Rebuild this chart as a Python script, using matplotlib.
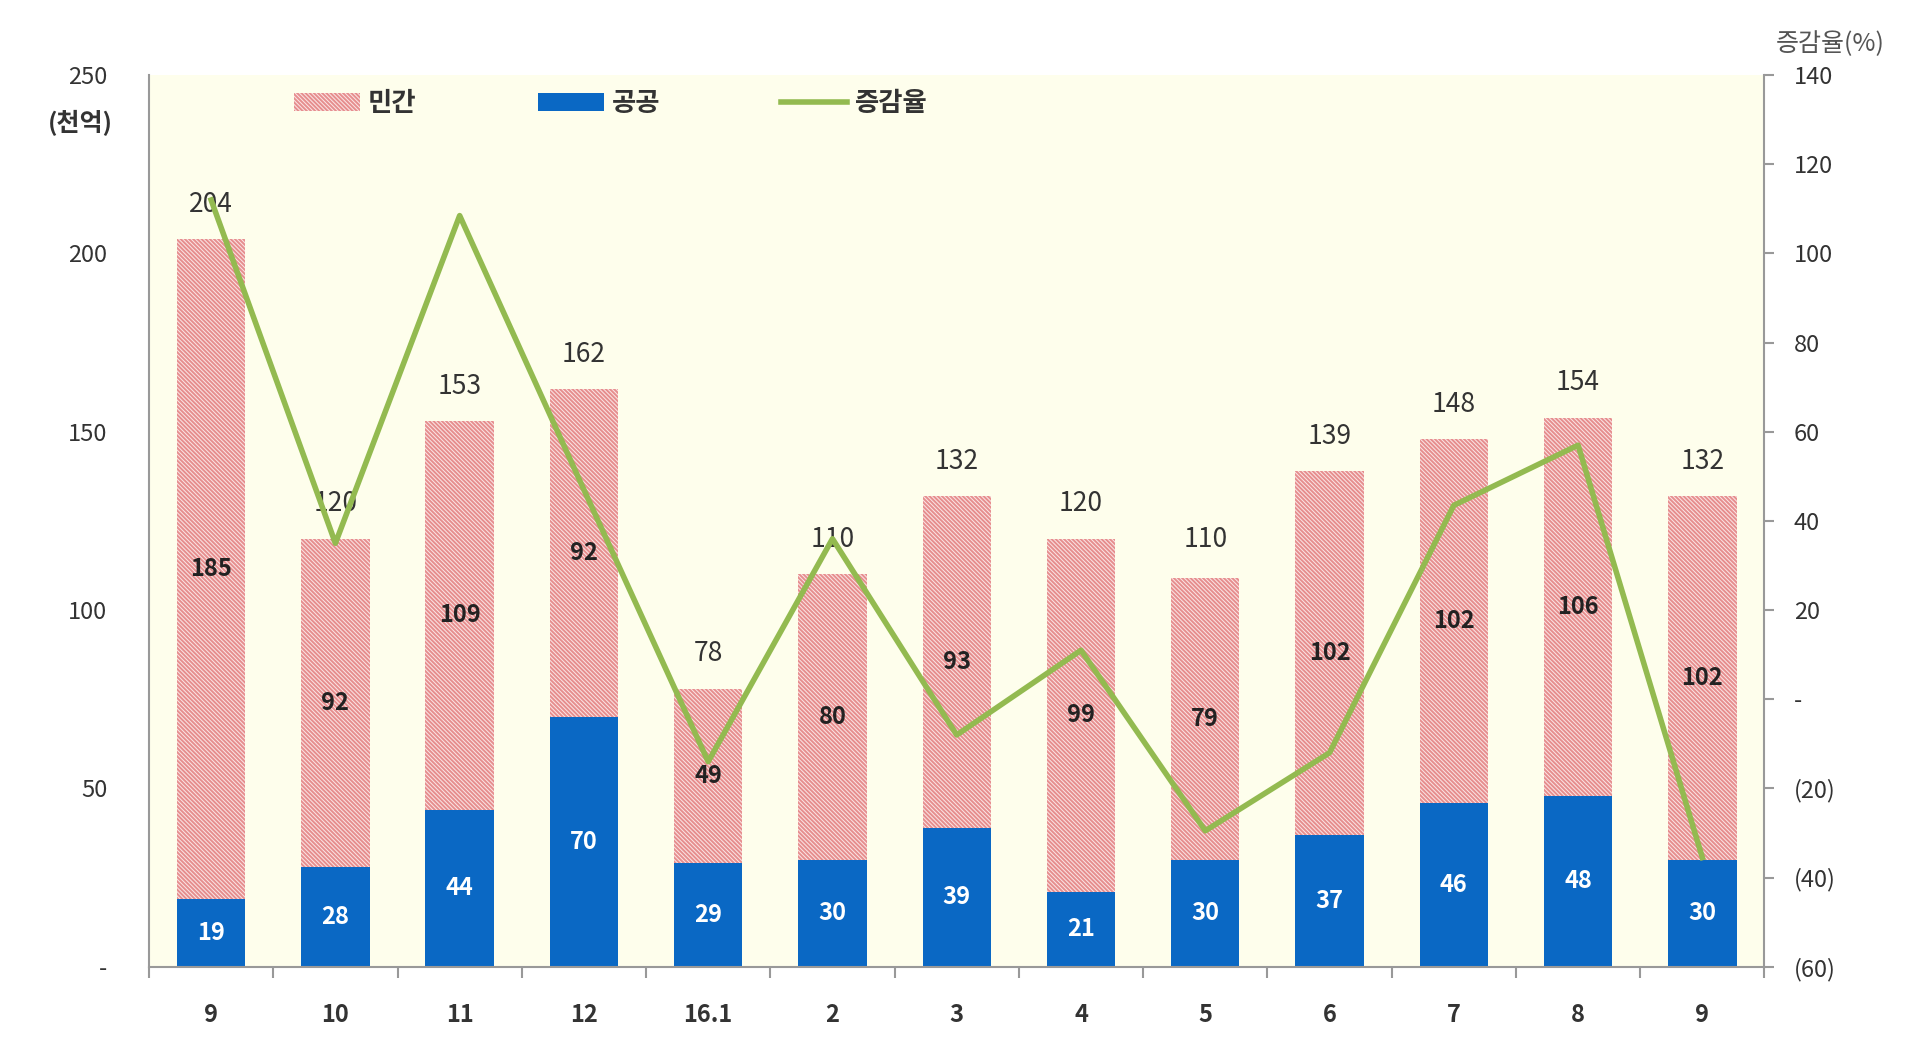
import matplotlib
matplotlib.use("Agg")
import matplotlib.pyplot as plt
import numpy as np
from matplotlib.patches import Patch
from matplotlib.lines import Line2D

plt.rcParams['font.family'] = ['Noto Sans CJK KR', 'DejaVu Sans']
plt.rcParams['hatch.linewidth'] = 1.4

categories = ["9", "10", "11", "12", "16.1", "2", "3", "4", "5", "6", "7", "8", "9"]
public = [19, 28, 44, 70, 29, 30, 39, 21, 30, 37, 46, 48, 30]
private = [185, 92, 109, 92, 49, 80, 93, 99, 79, 102, 102, 106, 102]
totals = [204, 120, 153, 162, 78, 110, 132, 120, 110, 139, 148, 154, 132]
growth = [112, 35, 108.5, 47, -14, 36, -8, 11, -29.5, -12, 43.5, 57, -35.5]
left_ticks = [0, 50, 100, 150, 200, 250]
left_tick_labels = ["-", "50", "100", "150", "200", "250"]
right_ticks = [-60, -40, -20, 0, 20, 40, 60, 80, 100, 120, 140]
right_tick_labels = ["(60)", "(40)", "(20)", "-", "20", "40", "60", "80", "100", "120", "140"]

BLUE = "#0A68C4"
HATCH = "#E68E8E"
PINKFACE = "#FBE6E6"
GREEN = "#93BA50"
BG = "#FEFEEC"
TXT = "#333333"
HPAT = '\\' * 8

fig = plt.figure(figsize=(19.2, 10.44), dpi=100)
ax = fig.add_axes([0.0776, 0.074, 0.8414, 0.854])
ax.set_facecolor(BG)
x = np.arange(len(categories))
w = 0.55

ax.bar(x, public, w, color=BLUE, linewidth=0, zorder=2)
ax.bar(x, private, w, bottom=public, facecolor=PINKFACE, edgecolor=HATCH,
       hatch=HPAT, linewidth=0, zorder=2)

for i in range(len(x)):
    ax.text(x[i], public[i] / 2, str(public[i]), ha='center', va='center',
            color='white', fontsize=17, fontweight='bold', zorder=5)
    ax.text(x[i], public[i] + private[i] / 2, str(private[i]), ha='center', va='center',
            color='#222222', fontsize=17, fontweight='bold', zorder=5)
    ax.text(x[i], totals[i] + 6, str(totals[i]), ha='center', va='bottom',
            color=TXT, fontsize=19, zorder=5)

ax.set_xlim(-0.5, len(x) - 0.5)
ax.set_ylim(0, 250)
ax.set_yticks(left_ticks)
ax.set_yticklabels(left_tick_labels, fontsize=17, color=TXT)
ax.tick_params(axis='y', length=0, pad=30)
ax.set_xticks(x)
ax.set_xticklabels(categories, fontsize=17, fontweight='bold', color=TXT)
ax.set_xticks(np.arange(-0.5, len(x), 1.0), minor=True)
ax.tick_params(axis='x', which='major', length=0, pad=26)
ax.tick_params(axis='x', which='minor', length=8, color='#999999', width=1.5)
for s in ['top', 'right']:
    ax.spines[s].set_visible(False)
for s in ['left', 'bottom']:
    ax.spines[s].set_color('#999999')
    ax.spines[s].set_linewidth(1.5)

ax2 = ax.twinx()
ax2.plot(x, growth, color=GREEN, linewidth=4, zorder=6)
ax2.set_ylim(-60, 140)
ax2.set_yticks(right_ticks)
ax2.set_yticklabels(right_tick_labels, fontsize=17, color=TXT)
ax2.tick_params(axis='y', length=7, pad=14, color='#999999', width=1.5)
for s in ['top', 'left', 'bottom']:
    ax2.spines[s].set_visible(False)
ax2.spines['right'].set_color('#999999')
ax2.spines['right'].set_linewidth(1.5)

fig.text(0.042, 0.882, "(천억)", fontsize=18, fontweight='bold', color=TXT, ha='center', va='center')
fig.text(0.953, 0.958, "증감율(%)", fontsize=18, color='#555555', ha='center', va='center')

handles = [Patch(facecolor=PINKFACE, edgecolor=HATCH, hatch=HPAT, linewidth=0),
           Patch(facecolor=BLUE, linewidth=0),
           Line2D([0], [0], color=GREEN, linewidth=4)]
leg = ax2.legend(handles, ["민간", "공공", "증감율"], loc='upper left',
                 bbox_to_anchor=(0.075, 1.01), ncol=3, frameon=False,
                 fontsize=19, columnspacing=4.6, handlelength=2.5, handletextpad=0.3,
                 handleheight=0.7)
for t in leg.get_texts():
    t.set_fontweight('bold')
    t.set_color(TXT)

fig.savefig("out.png", dpi=100, facecolor='white')
